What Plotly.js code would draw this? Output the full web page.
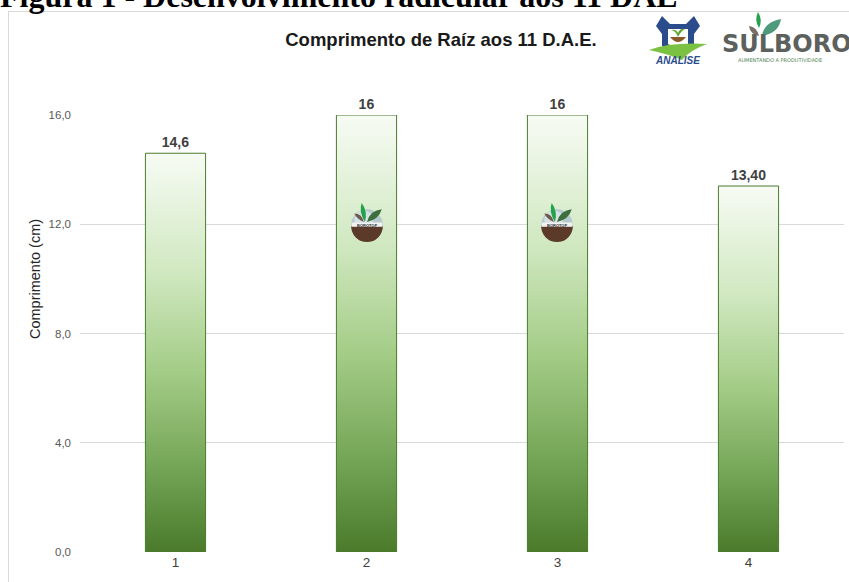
<!DOCTYPE html>
<html><head><meta charset="utf-8">
<script src="https://cdn.plot.ly/plotly-3.0.1.min.js"></script>
<style>
html,body{margin:0;padding:0;width:849px;height:582px;overflow:hidden;background:#fff;}
#frame{position:absolute;left:8px;top:11px;width:900px;height:700px;border:1px solid #d9d9d9;box-sizing:border-box;}
#hdr{position:absolute;left:0;top:-20px;font-family:"Liberation Serif","Times New Roman",serif;font-weight:bold;font-size:32px;line-height:32px;white-space:nowrap;color:#000;z-index:5;}
#chart{position:absolute;left:0;top:0;width:849px;height:582px;}
</style></head><body>
<div id="frame"></div>
<div id="chart"></div>
<div id="hdr">Figura 1 - Desenvolvimento radicular aos 11 DAE</div>
<script>
// ---- data ----
const categories = ['1', '2', '3', '4'];
const comprimento = [14.6, 16, 16, 13.4];
const valueLabels = ['14,6', '16', '16', '13,40'];
const yTicks = [0, 4, 8, 12, 16];
const chartTitle = 'Comprimento de Raíz aos 11 D.A.E.';
const yTitle = 'Comprimento (cm)';

// ---- helpers (page px -> paper coords) ----
const PL = 80, PR = 844, PT = 115, PB = 552;
const PX = x => (x - PL) / (PR - PL);
const PY = y => (PB - y) / (PB - PT);
const svgURI = s => 'data:image/svg+xml;charset=utf-8,' + encodeURIComponent(s);

const analiseSVG = `<svg xmlns='http://www.w3.org/2000/svg' width='60' height='46' viewBox='0 0 60 46'>
<path d='M14 2 L22 10 L38 10 L46 2 L52 12 L46 20 L46 32 L30 42 L14 32 L14 20 L8 12 Z' fill='#2b4c8c'/>
<path d='M20 15 L40 15 L40 30 L30 36 L20 30 Z' fill='#fff'/>
<path d='M22 23 Q30 33 38 23 Z' fill='#8a5a2b'/>
<path d='M30 23 Q28 17 23 16 Q28 15 30 19 Q32 14 37 15 Q33 17 30 23Z' fill='#5aa832'/>
<path d='M1 36 Q22 28 59 30 Q42 36 34 46 Q20 40 1 36Z' fill='#7cc242'/>
</svg>`;

const leavesSVG = `<svg xmlns='http://www.w3.org/2000/svg' width='34' height='26' viewBox='0 0 34 26'>
<path d='M10 16 Q5 8 9 0 Q14 8 10 16Z' fill='#25a24c'/>
<path d='M10 24 Q1 22 0 14 Q8 15 10 24Z' fill='#7a6e66'/>
<path d='M13 24 Q15 10 32 7 Q30 21 13 24Z' fill='#4f9a7c'/>
</svg>`;

const borotopSVG = `<svg xmlns='http://www.w3.org/2000/svg' width='36' height='38' viewBox='0 0 36 38'>
<circle cx='18' cy='22' r='15' fill='#b4c8ce'/>
<circle cx='15' cy='17' r='9' fill='#d6e1e4'/>
<path d='M3 23 A15 15 0 0 0 33 23 Z' fill='#5b3a29'/>
<rect x='3.5' y='19.5' width='29' height='4' fill='#f2f2f2'/>
<path d='M16 19 Q10 9 13 1 Q19 9 16 19Z' fill='#22a34a'/>
<path d='M18 19 Q21 8 32 7 Q29 17 18 19Z' fill='#3c6e3e'/>
<path d='M15 19 Q8 16 6 11 Q13 11 15 19Z' fill='#6e5a4a'/>
</svg>`;

const data = [{
  type: 'bar',
  x: categories,
  y: comprimento,
  text: valueLabels,
  textposition: 'outside',
  texttemplate: '%{text}',
  cliponaxis: false,
  constraintext: 'none',
  textfont: {family: 'Liberation Sans, Arial, sans-serif', size: 14, color: '#404040', weight: 'bold'},
  width: 0.315,
  marker: {color: '#a9d18e', line: {color: '#4a7a2c', width: 1}},
  hoverinfo: 'skip'
}];

const borotopX = [367, 557];

const layout = {
  width: 849, height: 582,
  margin: {l: PL, r: 849 - PR, t: PT, b: 582 - PB, pad: 0},
  paper_bgcolor: 'rgba(0,0,0,0)',
  plot_bgcolor: 'rgba(0,0,0,0)',
  separators: ',.',
  showlegend: false,
  font: {family: 'Liberation Sans, Arial, sans-serif', color: '#404040'},
  title: {
    text: chartTitle,
    font: {family: 'Liberation Sans, Arial, sans-serif', size: 18.5, color: '#1a1a1a', weight: 'bold'},
    xref: 'container', x: 441 / 849, xanchor: 'center',
    yref: 'container', y: 1 - 40 / 582, yanchor: 'middle'
  },
  xaxis: {
    type: 'category', range: [-0.5, 3.5], fixedrange: true,
    showgrid: false, zeroline: false, showline: false, ticks: '',
    tickfont: {size: 13.5, color: '#404040'}
  },
  yaxis: {
    range: [0, 16], tickvals: yTicks, tickformat: '.1f',
    gridcolor: '#d9d9d9', gridwidth: 1, zeroline: false, showline: false, ticks: '',
    ticklabelstandoff: 8,
    tickfont: {size: 11.5, color: '#595959'}
  },
  images: [
    {source: svgURI(analiseSVG), xref: 'paper', yref: 'paper', x: PX(648), y: PY(14), sizex: 60 / 764, sizey: 46 / 437, xanchor: 'left', yanchor: 'top', sizing: 'stretch', layer: 'above'},
    {source: svgURI(leavesSVG), xref: 'paper', yref: 'paper', x: PX(749), y: PY(12), sizex: 34 / 764, sizey: 26 / 437, xanchor: 'left', yanchor: 'top', sizing: 'stretch', layer: 'above'}
  ].concat(borotopX.map(cx => ({
    source: svgURI(borotopSVG), xref: 'paper', yref: 'paper', x: PX(cx), y: PY(202), sizex: 38 / 764, sizey: 40 / 437, xanchor: 'center', yanchor: 'top', sizing: 'stretch', layer: 'above'
  }))),
  annotations: [
    {text: yTitle, xref: 'paper', yref: 'paper', x: PX(35), y: PY(279), xanchor: 'center', yanchor: 'middle', textangle: -90, showarrow: false, font: {size: 14.5, color: '#262626'}},
    {text: '<i><b>ANALISE</b></i>', xref: 'paper', yref: 'paper', x: PX(677), y: PY(61), xanchor: 'center', yanchor: 'middle', showarrow: false, font: {size: 10, color: '#2b4c8c', family: 'Liberation Sans, Arial, sans-serif'}},
    {text: '<b>SULBORO</b>', xref: 'paper', yref: 'paper', x: PX(720), y: PY(44), xanchor: 'left', yanchor: 'middle', showarrow: false, font: {size: 24, color: '#5d615e', family: 'DejaVu Sans, sans-serif'}},
    {text: 'AUMENTANDO A PRODUTIVIDADE', xref: 'paper', yref: 'paper', x: PX(736), y: PY(60), xanchor: 'left', yanchor: 'middle', showarrow: false, font: {size: 5, color: '#4b7f52', family: 'DejaVu Sans, sans-serif'}}
  ].concat(borotopX.map(cx => ({
    text: '<b>BOROTOP</b>', xref: 'paper', yref: 'paper', x: PX(cx), y: PY(225), xanchor: 'center', yanchor: 'middle', showarrow: false, font: {size: 4, color: '#333333'}
  })))
};

Plotly.newPlot('chart', data, layout, {staticPlot: true, displayModeBar: false}).then(gd => {
  const ns = 'http://www.w3.org/2000/svg';
  const svg = gd.querySelector('svg.main-svg');
  let defs = svg.querySelector('defs');
  if (!defs) { defs = document.createElementNS(ns, 'defs'); svg.insertBefore(defs, svg.firstChild); }
  const lg = document.createElementNS(ns, 'linearGradient');
  lg.setAttribute('id', 'barGrad');
  lg.setAttribute('x1', '0'); lg.setAttribute('y1', '0'); lg.setAttribute('x2', '0'); lg.setAttribute('y2', '1');
  [[0, '#f7fbf4'], [0.3, '#d0e8c0'], [0.55, '#a3cc86'], [0.8, '#72a354'], [1, '#4a7a2a']].forEach(([o, c]) => {
    const st = document.createElementNS(ns, 'stop');
    st.setAttribute('offset', o); st.setAttribute('stop-color', c);
    lg.appendChild(st);
  });
  defs.appendChild(lg);
  gd.querySelectorAll('.barlayer .point path').forEach(p => { p.style.fill = 'url(#barGrad)'; });
});
</script>
</body></html>
